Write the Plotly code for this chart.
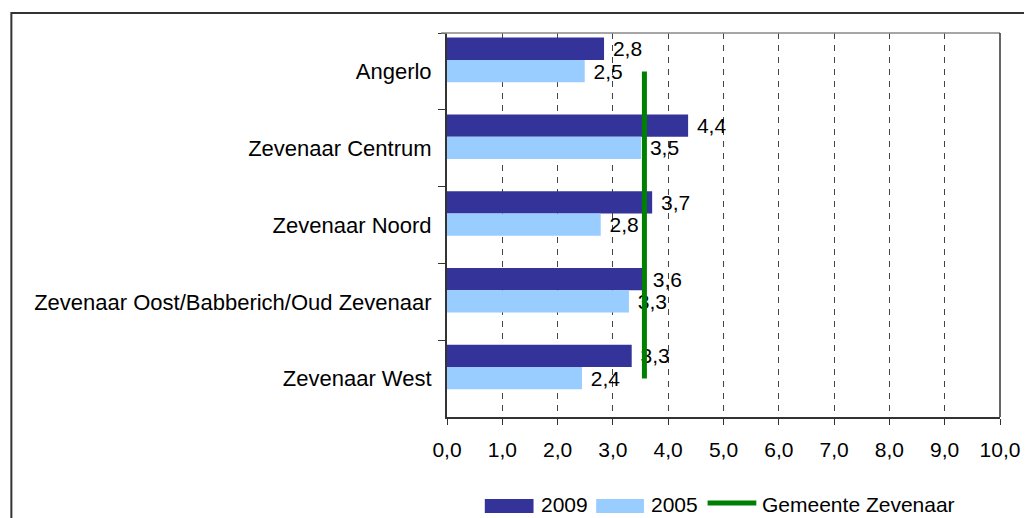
import plotly.graph_objects as go

# data
wijken = ["Angerlo", "Zevenaar Centrum", "Zevenaar Noord",
          "Zevenaar Oost/Babberich/Oud Zevenaar", "Zevenaar West"]
waarden_2009 = [2.84, 4.36, 3.71, 3.56, 3.34]
waarden_2005 = [2.49, 3.51, 2.78, 3.29, 2.44]
gemeente_zevenaar = [3.57, 3.57, 3.57, 3.57, 3.57]
x_ticks = [0, 1, 2, 3, 4, 5, 6, 7, 8, 9, 10]

kleur_2009 = "#333399"
kleur_2005 = "#99CCFF"
kleur_lijn = "#008000"
font = "Liberation Sans, Arial, sans-serif"

# the page body adds an 8px margin at top/left
OFF = 8
W, H = 1032 - OFF, 518 - OFF
L, R, T, B = 447 - OFF, W - (1003 - OFF), 33 - OFF, H - (417 - OFF)
pw, ph = W - L - R, H - T - B


def px(x):
    return (x - OFF - L) / pw


def py(y):
    return (H - B - (y - OFF)) / ph


fig = go.Figure()

fig.add_trace(go.Bar(
    y=wijken, x=waarden_2009, orientation="h", name="2009",
    marker=dict(color=kleur_2009, line_width=0),
    offset=-0.44, width=0.29,
    texttemplate=" %{x:.1f}", textposition="outside",
    textfont=dict(size=21, color="black", family=font),
    constraintext="none", cliponaxis=False,
))
fig.add_trace(go.Bar(
    y=wijken, x=waarden_2005, orientation="h", name="2005",
    marker=dict(color=kleur_2005, line_width=0),
    offset=-0.15, width=0.29,
    texttemplate=" %{x:.1f}", textposition="outside",
    textfont=dict(size=21, color="black", family=font),
    constraintext="none", cliponaxis=False,
))
fig.add_trace(go.Scatter(
    y=wijken, x=gemeente_zevenaar, mode="lines", name="Gemeente Zevenaar",
    line=dict(color=kleur_lijn, width=5), cliponaxis=False,
))

fig.update_xaxes(
    range=[0, 10], tickvals=x_ticks, tickformat=".1f",
    showgrid=True, gridcolor="#444", gridwidth=1, griddash="6px,6px",
    showline=True, linecolor="#333", linewidth=2,
    ticks="outside", ticklen=6, tickcolor="#333", tickwidth=1,
    zeroline=False, tickfont=dict(size=21, color="black", family=font),
    ticklabelstandoff=7,
)
fig.update_yaxes(
    type="category", categoryorder="array", categoryarray=wijken,
    range=[4.5, -0.5], tickson="boundaries",
    showgrid=False, showline=True, linecolor="#333", linewidth=2,
    ticks="outside", ticklen=7, tickcolor="#333", tickwidth=1,
    tickfont=dict(size=22, color="black", family=font),
    ticklabelstandoff=9,
)

shapes = [
    # outer chart border
    dict(type="rect", xref="paper", yref="paper",
         x0=px(OFF + 1), x1=px(1100), y0=py(600), y1=py(13),
         line=dict(color="#333", width=2), fillcolor="rgba(0,0,0,0)", layer="above"),
    # plot area border top / right
    dict(type="line", xref="paper", yref="paper", x0=px(441), x1=1, y0=1, y1=1,
         line=dict(color="#888", width=1.5)),
    dict(type="line", xref="paper", yref="paper", x0=1, x1=1, y0=0, y1=1,
         line=dict(color="#333", width=1.5)),
    # legend symbols
    dict(type="rect", xref="paper", yref="paper", x0=px(485), x1=px(534),
         y0=py(513), y1=py(499), fillcolor=kleur_2009, line_width=0),
    dict(type="rect", xref="paper", yref="paper", x0=px(597), x1=px(645),
         y0=py(513), y1=py(499), fillcolor=kleur_2005, line_width=0),
    dict(type="line", xref="paper", yref="paper", x0=px(709), x1=px(758),
         y0=py(503), y1=py(503), line=dict(color=kleur_lijn, width=5)),
]

annotations = []
for naam, xpos in [("2009", 539), ("2005", 650), ("Gemeente Zevenaar", 762)]:
    annotations.append(dict(
        text=naam, xref="paper", yref="paper", x=px(xpos), y=py(504),
        xanchor="left", yanchor="middle", showarrow=False,
        font=dict(size=21, color="black", family=font),
    ))

fig.update_layout(
    width=W, height=H,
    margin=dict(l=L, r=R, t=T, b=B),
    paper_bgcolor="white", plot_bgcolor="white",
    separators=",.",
    showlegend=False,
    barmode="group",
    font=dict(family=font, size=21, color="black"),
    shapes=shapes,
    annotations=annotations,
)

fig.write_html("out.html")
